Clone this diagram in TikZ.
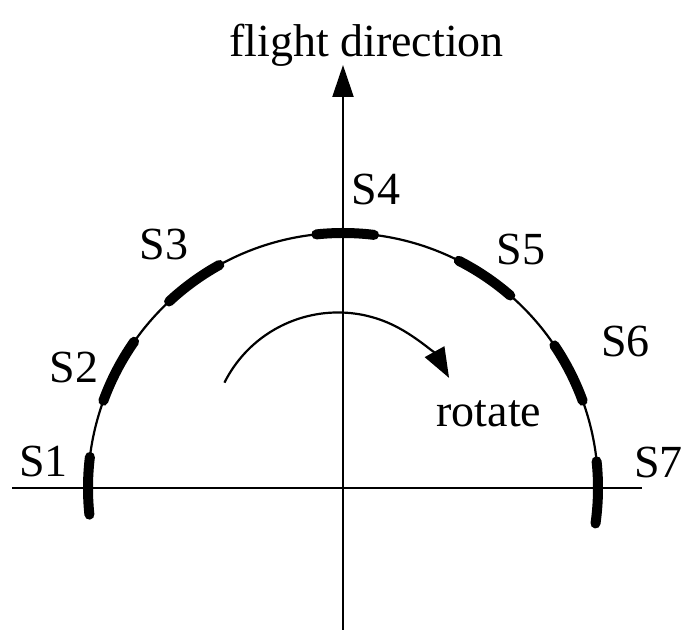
\documentclass[tikz,border=0pt]{standalone}
\usepackage{fontspec}
\setmainfont{Liberation Serif}
\usetikzlibrary{arrows.meta}
\begin{document}
\begin{tikzpicture}[x=1pt,y=1pt,
  lbl/.style={anchor=base,inner sep=0pt,font=\fontsize{46}{54}\selectfont},
  axis/.style={line width=2.3pt},
  thin arc/.style={line width=2.2pt},
  sensor/.style={line width=10pt,line cap=round},
  tip/.style={-{Triangle[length=32pt,width=21pt]}}]
\useasboundingbox (0,0) rectangle (691,631);
\coordinate (O) at (343,143);
\coordinate (L) at (12,143);
\coordinate (R) at (642,143);
\coordinate (B) at (343,1);
\coordinate (T) at (343,566);
% axes
\draw[axis] (L) -- (R);
\draw[axis,tip] (B) -- (T);
% main arc
\draw[thin arc] ([shift={(-8:255)}]O) arc[start angle=-8,end angle=186,radius=255];
% sensors
\foreach \a/\b in {173/186,145/160,119/133,83/96,49/63,20/34,-8/6}{
  \draw[sensor] ([shift={(\a:255)}]O) arc[start angle=\a,end angle=\b,radius=255];
}
% rotate arrow
\coordinate (C2) at (338,191.5);
\draw[thin arc,-{Triangle[length=30pt,width=22pt]}] ([shift={(153.4:127)}]C2) arc[start angle=153.4,end angle=29,radius=127];
% labels
\node[lbl] (fd) at (366.5,574) {flight direction};
\node[lbl] (rot) at (489,204) {rotate};
\node[lbl] (s1) at (43.5,154) {S1};
\node[lbl] (s2) at (74,248) {S2};
\node[lbl] (s3) at (164,371) {S3};
\node[lbl] (s4) at (376,426) {S4};
\node[lbl] (s5) at (521,366) {S5};
\node[lbl] (s6) at (625.5,274) {S6};
\node[lbl] (s7) at (658.5,153) {S7};
\end{tikzpicture}
\end{document}
